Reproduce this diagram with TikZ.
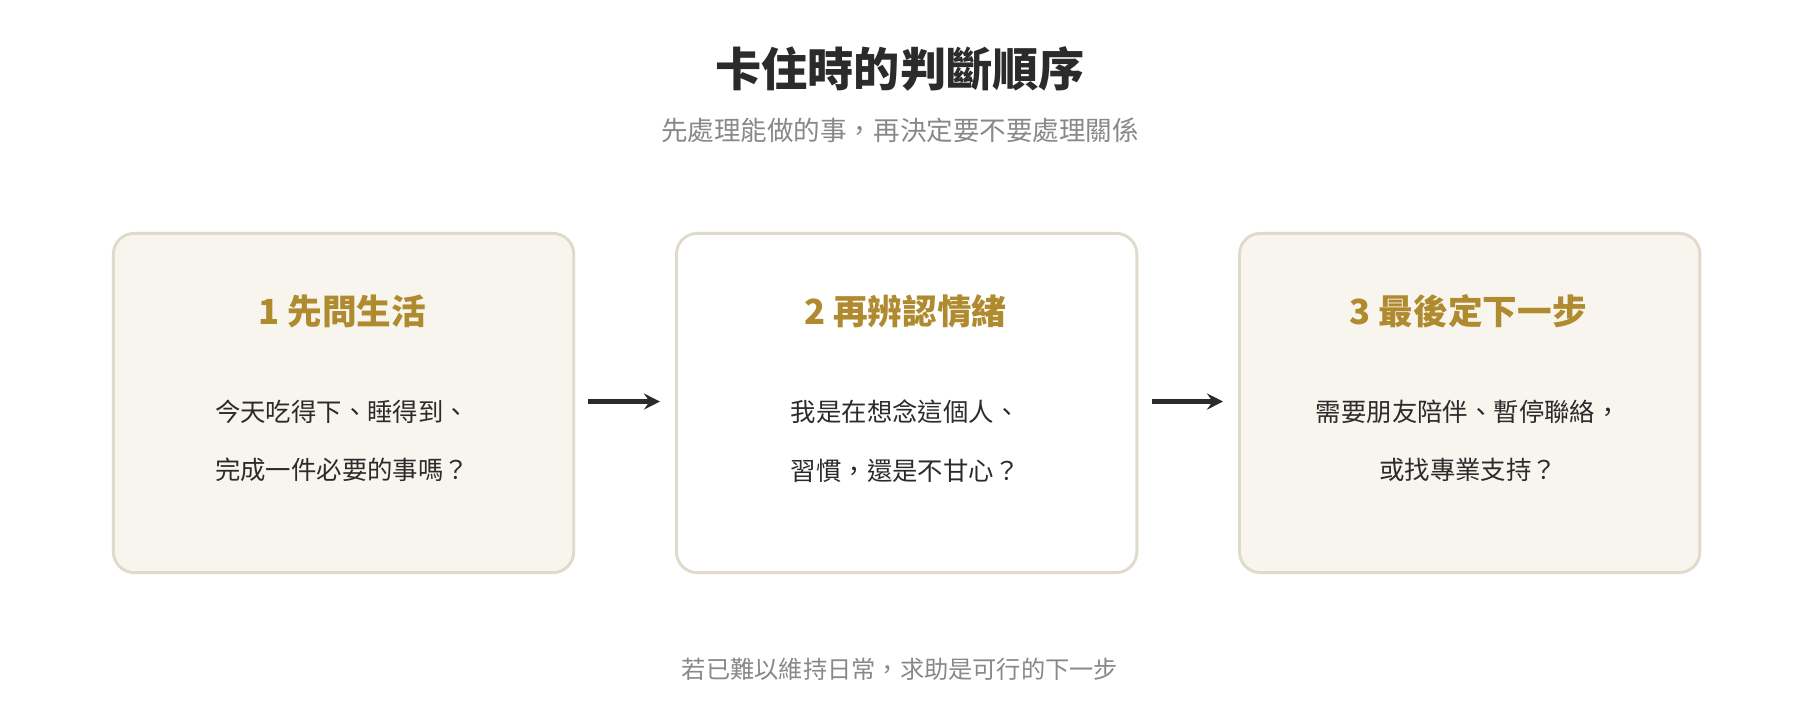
\documentclass[tikz,border=0pt]{standalone}
\usepackage{fontspec}
\setmainfont{Noto Sans CJK TC}
\usetikzlibrary{arrows.meta}
\definecolor{boxfill}{HTML}{F8F5EE}
\definecolor{boxline}{HTML}{E0DACB}
\definecolor{gold}{HTML}{B08A2E}
\definecolor{ink}{HTML}{2B2B2B}
\definecolor{soft}{HTML}{888888}
\begin{document}
\begin{tikzpicture}[x=1pt,y=-1pt,
  card/.style={draw=boxline,line width=2.5pt,rounded corners=18pt,minimum width=399pt,minimum height=294pt,anchor=north west},
  head/.style={text=gold,font=\fontsize{30}{36}\selectfont\bfseries},
  body/.style={text=ink,font=\fontsize{22}{51}\selectfont,align=center},
  arr/.style={-{Stealth[length=14pt,width=14pt,inset=5pt]},line width=4pt,draw=ink}]
\useasboundingbox (0,0) rectangle (1560,624);
\node[text=ink,font=\fontsize{40}{48}\selectfont\bfseries] (title) at (780,60) {卡住時的判斷順序};
\node[text=soft,font=\fontsize{23}{28}\selectfont] (sub) at (780,113) {先處理能做的事，再決定要不要處理關係};
\node[card,fill=boxfill] (c1) at (97,201) {};
\node[card,fill=white] (c2) at (585,201) {};
\node[card,fill=boxfill] (c3) at (1073,201) {};
\node[head] (h1) at (296.5,270) {1 先問生活};
\node[head] (h2) at (784.5,270) {2 再辨認情緒};
\node[head] (h3) at (1272.5,270) {3 最後定下一步};
\node[body] (b1) at (296.5,382) {今天吃得下、睡得到、\\完成一件必要的事嗎？};
\node[body] (b2) at (784.5,382) {我是在想念這個人、\\習慣，還是不甘心？};
\node[body] (b3) at (1272.5,382) {需要朋友陪伴、暫停聯絡，\\或找專業支持？};
\coordinate (a1s) at (510,348); \coordinate (a1e) at (572,348);
\coordinate (a2s) at (998,348); \coordinate (a2e) at (1060,348);
\draw[arr] (a1s) -- (a1e);
\draw[arr] (a2s) -- (a2e);
\node[text=soft,font=\fontsize{21}{26}\selectfont] (foot) at (780,580) {若已難以維持日常，求助是可行的下一步};
\end{tikzpicture}
\end{document}
